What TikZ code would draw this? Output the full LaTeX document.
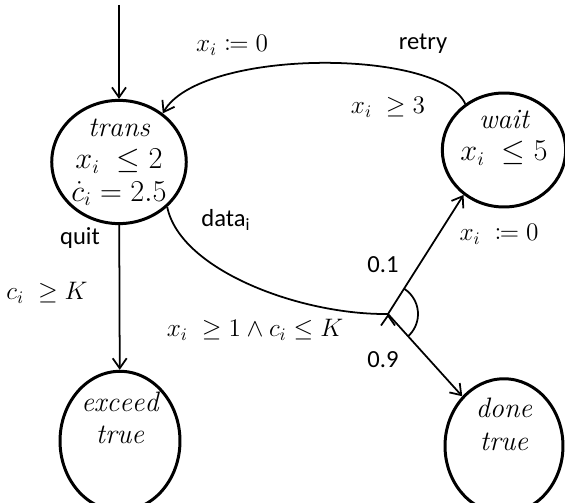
\documentclass[tikz,border=0pt]{standalone}
\usepackage{amsmath}
\usepackage{amssymb}
\usepackage{mathtools}
\usepackage{fontspec}
\setsansfont{Carlito}
\usetikzlibrary{arrows.meta, shapes.geometric}

\begin{document}
\begin{tikzpicture}[x=0.02cm, y=0.02cm]
\tikzstyle{location} = [
	shape=ellipse,
	draw=black, %border of the location
	line width=1.7pt,
	inner sep=0pt,
	align=center,
	font=\fontsize{16}{18.5}\selectfont
];
\tikzstyle{guard} = [font=\fontsize{14.5}{17}\selectfont];
\tikzstyle{action} = [font=\sffamily\fontsize{14}{16}\selectfont];

\useasboundingbox (0,0) rectangle (565,-503);

\node[location, minimum width=2.24cm, minimum height=2.4cm](trans) at (119,-162)
	{$\mathit{trans}$\\ $x_i\;\leq 2$\\ $\dot{c}_i = 2.5$};
\node[location, minimum width=2.36cm, minimum height=2.28cm](wait) at (504,-150)
	{$\mathit{wait}$\\ $x_i\;\leq 5$\\[-2pt]\mbox{}};
\node[location, minimum width=2.4cm, minimum height=2.52cm](exceed) at (120,-441)
	{$\mathit{exceed}$\\ $\mathit{true}$\\[8pt]\mbox{}};
\node[location, minimum width=2.36cm, minimum height=2.36cm](done) at (504,-446)
	{$\mathit{done}$\\ $\mathit{true}$\\[6pt]\mbox{}};

\coordinate (start) at (119,-5);
\coordinate (branch) at (388,-314);

%edges
\draw[-{Straight Barb[length=2mm,width=2.8mm]}, line width=1pt, color=black]
	(start) edge[] (trans)
	(trans) edge[] (exceed)
	(branch) edge[] (wait.228)
	(branch) edge[] (done.130)
;

%retry back to trans
\draw[-{Straight Barb[length=2mm,width=2.8mm]}, line width=1pt]
	(wait.130) .. controls (440,-48) and (200,-48) .. (trans.48);

%sending data
\draw[line width=1pt]
	(trans.-43) .. controls (180,-270) and (300,-315) .. (branch);
\draw[line width=1pt]
	(branch) ++(57:0.6cm) arc[start angle=57, end angle=-48, radius=0.6cm];

%labels
\node[guard](reset1) at (232,-45) {$x_i \coloneqq 0$};
\node[action](retry) at (423,-44) {retry};
\node[guard](g1) at (388,-107) {$x_i\;\geq 3$};
\node[action](data) at (226,-220) {data$_{\text{i}}$};
\node[action](p1) at (383,-265) {0.1};
\node[guard](reset2) at (499,-234) {$x_i\;\coloneqq 0$};
\node[guard](g2) at (255,-330) {$x_i\;\geq 1 \wedge c_i \leq K$};
\node[action](p2) at (383,-360) {0.9};
\node[action](quit) at (80,-238) {quit};
\node[guard](g3) at (47,-293) {$c_i\;\geq K$};

\end{tikzpicture}
\end{document}
